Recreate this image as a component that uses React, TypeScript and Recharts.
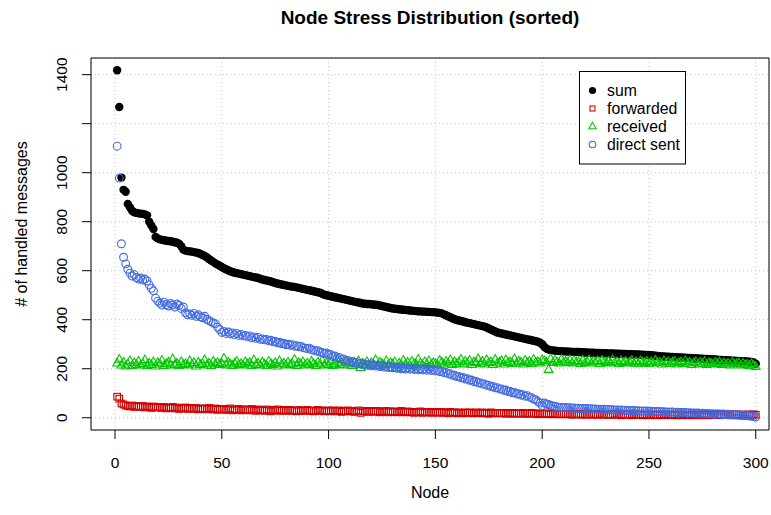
import React from 'react';
import { ScatterChart, Scatter, XAxis, YAxis, CartesianGrid, ReferenceArea, Legend } from 'recharts';

// ---- data (node order = sorted by sum) ----
const sumValues = [
  1418,1268,980,930,922,872,858,845,838,836,
  834,833,832,830,826,800,785,770,738,732,
  728,726,724,722,721,720,718,716,714,710,
  700,686,682,680,679,678,676,674,672,668,
  664,660,655,648,642,636,630,625,620,615,
  610,606,602,598,595,592,590,588,586,584,
  582,580,578,576,574,572,570,567,564,562,
  560,558,556,553,550,548,546,544,542,540,
  538,536,535,534,532,530,528,526,524,522,
  520,518,516,514,512,510,506,502,500,498,
  496,494,492,490,488,486,484,482,480,478,
  476,474,472,470,468,466,465,464,464,463,
  462,461,460,458,456,454,452,450,448,446,
  445,444,443,442,441,440,439,438,437,436,
  435,434,434,433,433,432,432,431,431,430,
  429,428,426,422,418,414,410,406,402,399,
  397,395,393,390,388,386,384,382,380,378,
  376,374,372,368,364,360,356,352,348,346,
  344,342,340,338,336,334,332,330,328,326,
  324,322,320,318,316,314,312,310,306,300,
  290,282,278,276,275,274,273,272,272,271,
  271,270,270,269,269,268,268,267,267,266,
  266,265,265,265,264,264,264,263,263,263,
  262,262,262,261,261,261,260,260,260,259,
  259,259,258,258,258,257,257,256,256,255,
  255,254,253,252,251,250,250,249,249,248,
  248,247,247,246,246,245,245,244,244,243,
  243,242,242,241,241,240,240,239,239,238,
  238,237,236,236,235,235,234,234,233,233,
  232,232,231,231,230,230,229,228,226,220,
];

const forwardedValues = [
  86,78,58,54,50,48,46,50,44,48,
  46,44,48,42,46,44,40,46,42,44,
  42,40,44,38,42,40,44,38,42,36,
  40,38,42,36,40,38,36,40,34,38,
  36,38,34,40,36,34,38,32,36,34,
  36,32,34,38,30,34,32,36,30,34,
  32,34,30,36,32,28,34,30,32,28,
  34,30,26,32,30,34,28,30,32,28,
  30,32,28,30,26,32,28,30,28,32,
  28,30,26,28,32,28,30,26,28,30,
  26,30,28,26,30,24,28,26,30,26,
  28,24,26,30,20,26,28,24,26,28,
  24,26,28,22,26,24,28,22,26,24,
  26,22,24,28,22,24,26,22,24,20,
  24,22,26,20,24,22,24,20,22,24,
  20,22,24,20,22,18,24,20,22,18,
  22,20,18,22,20,22,18,20,22,18,
  20,22,18,20,16,22,18,20,18,20,
  18,20,16,20,18,16,20,18,16,18,
  20,16,18,16,20,18,16,14,18,16,
  16,18,14,16,18,14,16,14,16,14,
  16,14,16,12,14,16,14,12,16,14,
  12,14,16,12,14,12,16,14,12,14,
  12,14,12,16,12,14,10,14,12,14,
  12,10,14,12,14,12,10,14,12,10,
  14,12,10,12,14,10,12,14,12,10,
  12,14,10,12,10,14,12,10,12,14,
  10,12,14,12,10,12,14,10,12,12,
  14,12,10,12,14,12,12,10,14,12,
  12,14,12,10,12,14,12,12,14,12,
];

const receivedValues = [
  222,238,214,226,210,218,232,212,224,216,
  230,214,220,236,212,222,216,228,210,224,
  218,234,212,220,226,214,240,216,222,212,
  228,216,220,214,232,218,224,210,226,216,
  220,236,214,222,212,230,218,224,216,220,
  242,214,226,218,212,222,230,216,220,214,
  228,218,224,212,236,216,222,214,226,218,
  212,230,220,216,224,210,232,218,222,214,
  226,216,220,238,212,224,218,228,214,222,
  216,230,220,212,226,218,234,214,222,216,
  228,212,220,236,216,224,214,230,218,222,
  212,226,218,232,204,222,216,228,214,224,
  218,236,212,226,220,214,232,216,224,218,
  228,204,222,216,234,218,226,212,230,220,
  216,238,222,214,228,218,232,216,224,220,
  214,234,226,218,230,222,236,216,228,220,
  226,238,218,230,222,234,216,228,224,240,
  220,230,218,236,224,228,216,238,222,226,
  232,218,236,224,228,220,240,222,230,226,
  218,234,224,230,220,238,226,228,222,236,
  232,226,196,240,224,234,228,222,238,226,
  230,224,236,222,232,226,228,220,234,224,
  228,236,222,230,226,232,220,234,228,224,
  230,222,236,226,228,220,232,224,230,222,
  226,234,222,228,220,232,226,224,230,220,
  228,222,234,224,226,218,232,222,228,220,
  226,230,218,224,228,220,232,222,226,216,
  224,228,218,226,220,230,216,224,222,218,
  226,220,228,216,224,218,222,214,226,218,
  220,224,214,222,216,218,212,220,214,208,
];

const directSentValues = [
  1108,978,710,655,628,606,590,578,584,572,
  566,570,562,566,558,542,528,518,488,476,
  468,460,472,462,456,466,460,452,464,458,
  446,452,428,420,424,418,426,414,420,412,
  408,414,402,396,392,386,384,370,360,348,
  352,344,350,342,346,338,344,336,340,334,
  336,330,334,326,330,324,328,320,322,318,
  320,314,316,310,312,306,308,302,304,298,
  300,296,298,292,294,290,292,286,284,282,
  284,278,276,272,274,268,266,262,264,258,
  258,250,252,244,246,238,240,232,234,228,
  230,224,226,220,222,216,219,214,217,212,
  216,211,214,209,212,207,210,205,208,204,
  207,202,205,200,204,199,203,198,202,197,
  201,196,200,195,199,194,198,193,196,191,
  194,188,190,184,185,179,180,173,174,168,
  169,163,164,158,159,153,154,147,148,142,
  143,137,138,132,133,127,128,122,123,117,
  118,112,113,107,108,102,103,97,98,92,
  94,88,90,84,82,76,74,66,60,50,
  60,56,54,50,48,46,44,42,42,41,
  42,40,41,39,40,38,39,37,38,37,
  38,36,37,35,36,34,35,34,35,33,
  34,32,33,31,32,31,32,30,31,29,
  30,29,30,28,29,27,28,27,28,26,
  27,25,26,25,26,24,25,23,24,23,
  24,22,23,21,22,21,22,20,21,19,
  20,19,20,18,19,17,18,16,17,15,
  16,15,16,14,15,13,14,12,13,11,
  12,10,11,9,10,8,8,6,5,3,
];

const xTicks = [0, 50, 100, 150, 200, 250, 300];
const xTickLabels = ['0', '50', '100', '150', '200', '250', '300'];
const yTicks = [0, 200, 400, 600, 800, 1000, 1200, 1400];
const yTickLabels = ['0', '200', '400', '600', '800', '1000', '', '1400'];
const seriesNames = ['sum', 'forwarded', 'received', 'direct sent'];

const titleText = 'Node Stress Distribution (sorted)';
const xLabelText = 'Node';
const yLabelText = '# of handled messages';

// ---- styling ----
const FONT = '"Liberation Sans", Arial, Helvetica, sans-serif';
const COLORS = ['#000000', '#D00000', '#00C800', '#4169E1'];
const X_DOMAIN: [number, number] = [-11.24, 306.2];
const Y_DOMAIN: [number, number] = [-50, 1468];

const toPoints = (vals: number[]) => vals.map((v, i) => ({ x: i + 1, y: v }));
const sumData = toPoints(sumValues);
const forwardedData = toPoints(forwardedValues);
const receivedData = toPoints(receivedValues);
const directSentData = toPoints(directSentValues);

const drawSymbol = (kind: number, cx: number, cy: number, key?: React.Key) => {
  if (kind === 0) return <circle key={key} cx={cx} cy={cy} r={4.2} fill={COLORS[0]} />;
  if (kind === 1)
    return (
      <rect key={key} x={cx - 3.3} y={cy - 3.3} width={6.6} height={6.6} fill="none" stroke={COLORS[1]} strokeWidth={1.1} />
    );
  if (kind === 2)
    return (
      <polygon
        key={key}
        points={`${cx},${cy - 4.9} ${cx - 4.4},${cy + 2.7} ${cx + 4.4},${cy + 2.7}`}
        fill="none"
        stroke={COLORS[2]}
        strokeWidth={1.1}
      />
    );
  return <circle key={key} cx={cx} cy={cy} r={3.9} fill="none" stroke={COLORS[3]} strokeWidth={1.1} />;
};

const shapeFor = (kind: number) => (p: any) => {
  if (p == null || p.cx == null || p.cy == null) return <g />;
  return drawSymbol(kind, p.cx, p.cy);
};

const XTick = (props: any) => {
  const { x, payload } = props;
  const i = xTicks.indexOf(payload.value);
  return (
    <text x={x} y={468} textAnchor="middle" fontSize={15.5} fontFamily={FONT} fill="#000">
      {i >= 0 ? xTickLabels[i] : ''}
    </text>
  );
};

const YTick = (props: any) => {
  const { y, payload } = props;
  const i = yTicks.indexOf(payload.value);
  const lx = 62;
  return (
    <text
      x={lx}
      y={y}
      dy="0.35em"
      transform={`rotate(-90, ${lx}, ${y})`}
      textAnchor="middle"
      fontSize={15.5}
      fontFamily={FONT}
      fill="#000"
    >
      {i >= 0 ? yTickLabels[i] : ''}
    </text>
  );
};

const LegendBox = () => (
  <svg width={108} height={95} style={{ display: 'block' }}>
    <rect x={0.5} y={0.5} width={106} height={92.5} fill="#fff" stroke="#000" strokeWidth={1} />
    {seriesNames.map((name, i) => {
      const cy = 19.5 + i * 18;
      return (
        <g key={name}>
          {i === 0 ? (
            <circle cx={13.5} cy={cy} r={3.6} fill={COLORS[0]} />
          ) : i === 1 ? (
            <rect x={11} y={cy - 2.5} width={5} height={5} fill="none" stroke={COLORS[1]} strokeWidth={1.1} />
          ) : i === 2 ? (
            <polygon
              points={`13.5,${cy - 4.2} 9.8,${cy + 2.3} 17.2,${cy + 2.3}`}
              fill="none"
              stroke={COLORS[2]}
              strokeWidth={1.1}
            />
          ) : (
            <circle cx={13.5} cy={cy} r={3.3} fill="none" stroke={COLORS[3]} strokeWidth={1.1} />
          )}
          <text x={28} y={cy} dy="0.36em" fontSize={15.8} fontFamily={FONT} fill="#000">
            {name}
          </text>
        </g>
      );
    })}
  </svg>
);

export default function App() {
  return (
    <div style={{ position: 'absolute', left: 0, top: 0, width: 771, height: 515, background: '#fff' }}>
      <div
        style={{
          position: 'absolute',
          left: 91,
          top: 0,
          width: 678,
          lineHeight: '36px',
          textAlign: 'center',
          fontFamily: FONT,
          fontWeight: 'bold',
          fontSize: 19,
          color: '#000',
          zIndex: 2,
        }}
      >
        {titleText}
      </div>
      <ScatterChart width={771} height={515} margin={{ top: 58, right: 2, bottom: 0, left: 0 }}>
        <CartesianGrid stroke="#c4c4c4" strokeDasharray="1 3" />
        <XAxis
          type="number"
          dataKey="x"
          domain={X_DOMAIN}
          ticks={xTicks}
          allowDataOverflow
          height={85}
          axisLine={false}
          tickLine={{ stroke: '#000' }}
          tickSize={9}
          tick={<XTick />}
          interval={0}
          label={{
            content: (lp: any) => {
              const vb = lp.viewBox || { x: 91, width: 678, y: 430 };
              return (
                <text x={vb.x + vb.width / 2} y={vb.y + 68} textAnchor="middle" fontSize={16} fontFamily={FONT} fill="#000">
                  {xLabelText}
                </text>
              );
            },
          }}
        />
        <YAxis
          type="number"
          dataKey="y"
          domain={Y_DOMAIN}
          ticks={yTicks}
          allowDataOverflow
          width={91}
          axisLine={false}
          tickLine={{ stroke: '#000' }}
          tickSize={9}
          tick={<YTick />}
          interval={0}
          label={{
            content: () => (
              <text
                x={21}
                y={224}
                dy="0.35em"
                transform={`rotate(-90, 21, 224)`}
                textAnchor="middle"
                fontSize={16}
                fontFamily={FONT}
                fill="#000"
              >
                {yLabelText}
              </text>
            ),
          }}
        />
        <ReferenceArea
          x1={X_DOMAIN[0]}
          x2={X_DOMAIN[1]}
          y1={Y_DOMAIN[0]}
          y2={Y_DOMAIN[1]}
          fill="none"
          fillOpacity={0}
          stroke="#000"
          strokeWidth={1}
          ifOverflow="visible"
        />
        <Scatter name={seriesNames[0]} data={sumData} shape={shapeFor(0)} isAnimationActive={false} />
        <Scatter name={seriesNames[1]} data={forwardedData} shape={shapeFor(1)} isAnimationActive={false} />
        <Scatter name={seriesNames[2]} data={receivedData} shape={shapeFor(2)} isAnimationActive={false} />
        <Scatter name={seriesNames[3]} data={directSentData} shape={shapeFor(3)} isAnimationActive={false} />
        <Legend
          layout="horizontal"
          verticalAlign="middle"
          align="center"
          content={() => <LegendBox />}
          wrapperStyle={{ position: 'absolute', left: 579, top: 71, width: 108, height: 95 }}
        />
      </ScatterChart>
    </div>
  );
}
